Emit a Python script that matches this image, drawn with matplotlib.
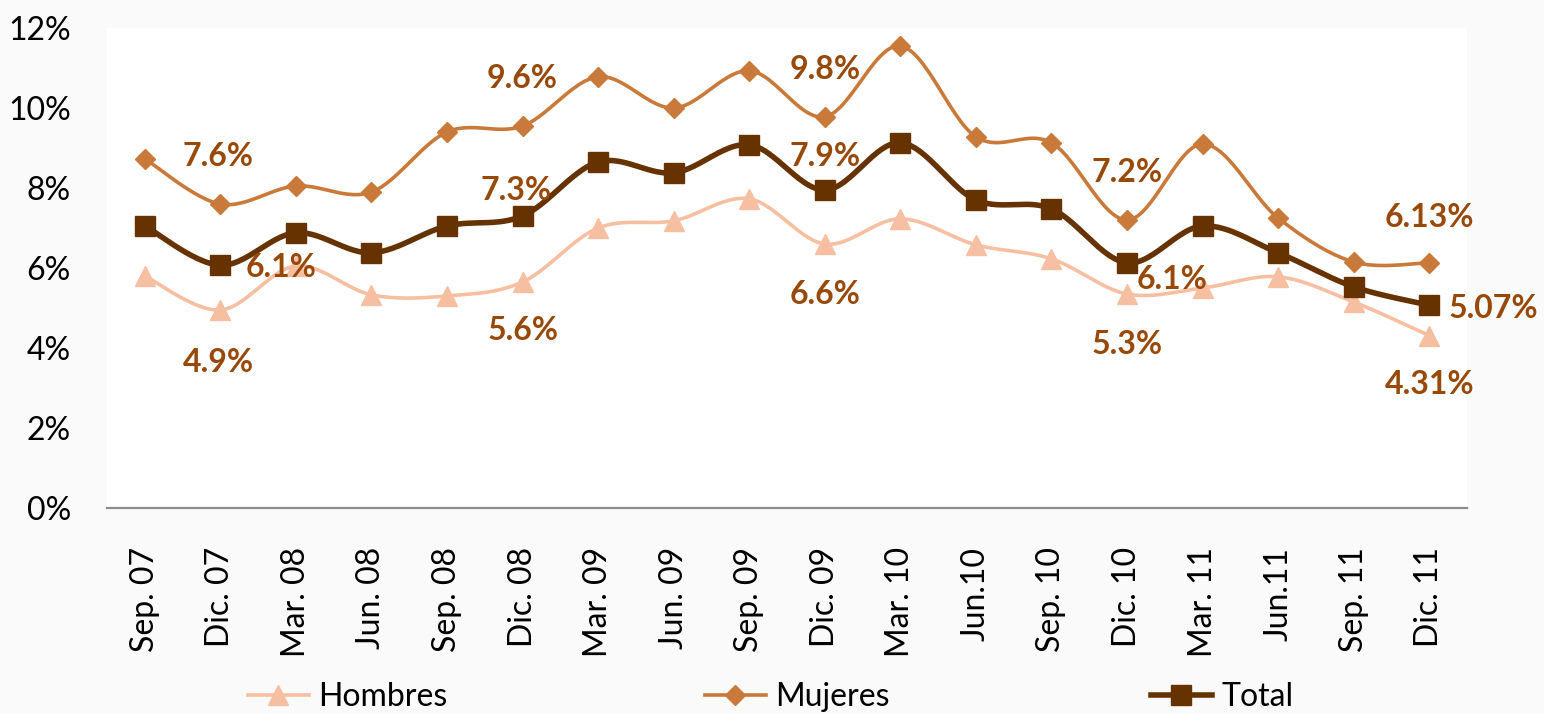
import numpy as np
import matplotlib
matplotlib.use("Agg")
import matplotlib.pyplot as plt
from matplotlib.lines import Line2D

# ---------------- data ----------------
categories = ["Sep. 07", "Dic. 07", "Mar. 08", "Jun. 08", "Sep. 08", "Dic. 08",
              "Mar. 09", "Jun. 09", "Sep. 09", "Dic. 09", "Mar. 10", "Jun.10",
              "Sep. 10", "Dic. 10", "Mar. 11", "Jun.11", "Sep. 11", "Dic. 11"]
hombres = [5.80, 4.95, 6.05, 5.33, 5.30, 5.65, 7.00, 7.18, 7.73, 6.60,
           7.23, 6.58, 6.23, 5.35, 5.50, 5.78, 5.15, 4.31]
mujeres = [8.73, 7.60, 8.05, 7.90, 9.40, 9.55, 10.78, 10.00, 10.93, 9.78,
           11.55, 9.28, 9.13, 7.20, 9.10, 7.25, 6.15, 6.13]
total = [7.05, 6.07, 6.88, 6.38, 7.05, 7.30, 8.65, 8.38, 9.08, 7.95,
         9.13, 7.70, 7.48, 6.13, 7.05, 6.38, 5.53, 5.07]

label_idx = [1, 5, 9, 13, 17]
hombres_labels = ["4.9%", "5.6%", "6.6%", "5.3%", "4.31%"]
mujeres_labels = ["7.6%", "9.6%", "9.8%", "7.2%", "6.13%"]
total_labels = ["6.1%", "7.3%", "7.9%", "6.1%", "5.07%"]
yticks = [0, 2, 4, 6, 8, 10, 12]

# ---------------- styles ----------------
FONT = "Lato"
C_H = "#F7BFA1"
C_M = "#C97A3A"
C_T = "#663300"
C_LAB = "#984807"

# label offsets in pixels (style only)
off_h = [(-2, -52), (0, -49), (0, -50), (0, -51), (0, -49)]
off_m = [(-2, 47), (0, 48), (0, 47), (0, 47), (0, 45)]
off_t = [(61, -2), (-6, 26), (0, 33), (45, -17), (64, -3)]


def smooth(xs, ys, n=30):
    """Excel-like smoothed line (Catmull-Rom Bezier) through the points."""
    xs = np.asarray(xs, float)
    ys = np.asarray(ys, float)
    P = np.column_stack([xs, ys])
    Pp = np.vstack([P[0], P, P[-1]])
    out = []
    t = np.linspace(0, 1, n)[:, None]
    for i in range(len(P) - 1):
        p0, p1, p2, p3 = Pp[i], Pp[i + 1], Pp[i + 2], Pp[i + 3]
        c1 = p1 + (p2 - p0) / 6.0
        c2 = p2 - (p3 - p1) / 6.0
        seg = ((1 - t) ** 3) * p1 + 3 * ((1 - t) ** 2) * t * c1 + 3 * (1 - t) * t ** 2 * c2 + t ** 3 * p2
        out.append(seg if i == 0 else seg[1:])
    out = np.vstack(out)
    return out[:, 0], out[:, 1]


fig = plt.figure(figsize=(15.44, 7.14), dpi=100, facecolor="#FAFAFA")
ax = fig.add_axes([107 / 1544, 1 - 508 / 714, (1467 - 107) / 1544, (508 - 28) / 714])
ax.set_facecolor("white")

x = np.arange(len(categories))
series = [
    (hombres, C_H, "^", 14, 2.6, "Hombres"),
    (mujeres, C_M, "D", 9.8, 2.6, "Mujeres"),
    (total, C_T, "s", 14, 4.0, "Total"),
]
handles = []
for z, (vals, col, mk, ms, lw, name) in enumerate(series):
    sx, sy = smooth(x, vals)
    ax.plot(sx, sy, color=col, lw=lw, zorder=2 + z, solid_capstyle="round")
    ax.plot(x, vals, linestyle="none", marker=mk, ms=ms, color=col,
            markeredgecolor=col, zorder=2.5 + z)
    handles.append(Line2D([], [], color=col, lw=lw, marker=mk, ms=ms,
                          markeredgecolor=col, label=name))

for vals, labs, offs in [(hombres, hombres_labels, off_h),
                         (mujeres, mujeres_labels, off_m),
                         (total, total_labels, off_t)]:
    for i, lab, off in zip(label_idx, labs, offs):
        ax.annotate(lab, (x[i], vals[i]), xytext=off, textcoords="offset pixels",
                    ha="center", va="center", fontsize=23, fontweight="bold",
                    color=C_LAB, family=FONT, zorder=10)

ax.set_xlim(-0.5, len(categories) - 0.5)
ax.set_ylim(0, 12)
ax.set_yticks(yticks)
ax.set_yticklabels([f"{v}%" for v in yticks], family=FONT, fontsize=23)
ax.set_xticks(x)
ax.set_xticklabels(categories, rotation=90, family=FONT, fontsize=23)
ax.tick_params(axis="y", length=0, pad=26)
ax.tick_params(axis="x", length=0, pad=28)
for s in ["top", "right", "left"]:
    ax.spines[s].set_visible(False)
ax.spines["bottom"].set_color("#8C8C8C")
ax.spines["bottom"].set_linewidth(1.6)

# legend entries, placed individually along the bottom
leg_x = [248, 705, 1151]
for h, lx in zip(handles, leg_x):
    fig.legend(handles=[h], loc="center left", bbox_to_anchor=(lx / 1544, 1 - 697 / 714),
               frameon=False, prop={"family": FONT, "size": 23}, handlelength=1.9,
               handletextpad=0.3, borderpad=0, borderaxespad=0)

fig.savefig("out.png", dpi=100, facecolor=fig.get_facecolor())
